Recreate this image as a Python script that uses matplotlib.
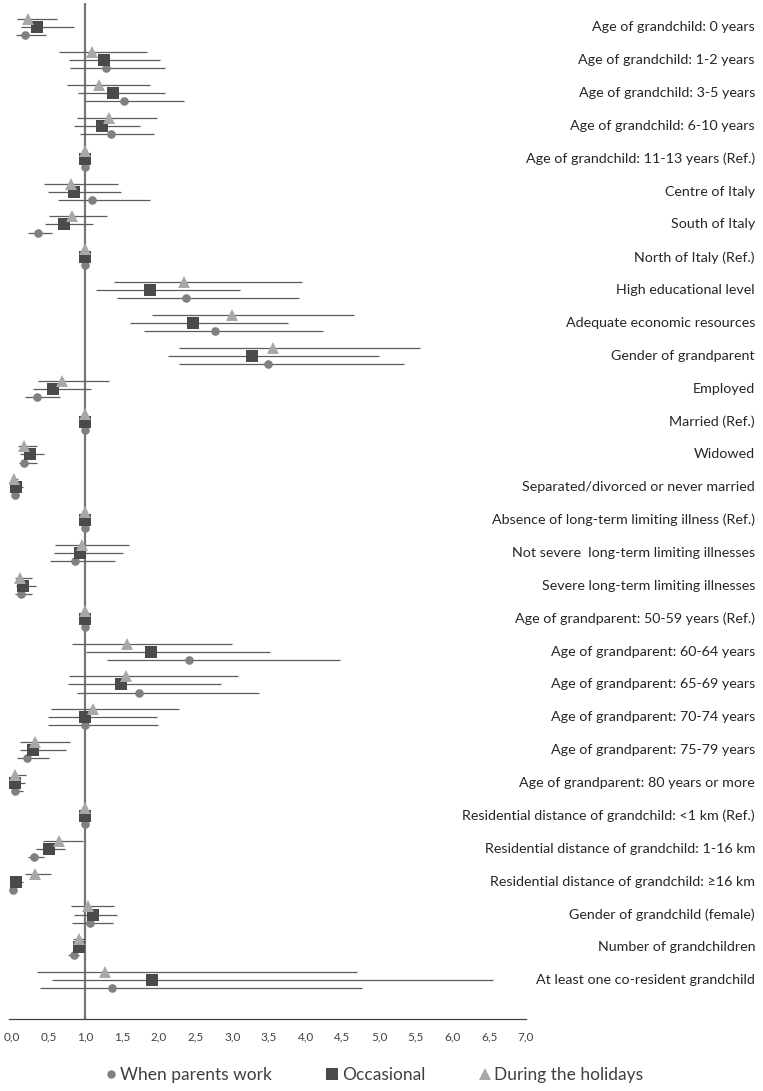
import matplotlib
matplotlib.use("Agg")
import matplotlib.pyplot as plt
import matplotlib.transforms as mtransforms
from matplotlib.lines import Line2D
import numpy as np

plt.rcParams['font.family'] = ['Lato', 'DejaVu Sans']

categories = [
    "Age of grandchild: 0 years",
    "Age of grandchild: 1-2 years",
    "Age of grandchild: 3-5 years",
    "Age of grandchild: 6-10 years",
    "Age of grandchild: 11-13 years (Ref.)",
    "Centre of Italy",
    "South of Italy",
    "North of Italy (Ref.)",
    "High educational level",
    "Adequate economic resources",
    "Gender of grandparent",
    "Employed",
    "Married (Ref.)",
    "Widowed",
    "Separated/divorced or never married",
    "Absence of long-term limiting illness (Ref.)",
    "Not severe  long-term limiting illnesses",
    "Severe long-term limiting illnesses",
    "Age of grandparent: 50-59 years (Ref.)",
    "Age of grandparent: 60-64 years",
    "Age of grandparent: 65-69 years",
    "Age of grandparent: 70-74 years",
    "Age of grandparent: 75-79 years",
    "Age of grandparent: 80 years or more",
    "Residential distance of grandchild: <1 km (Ref.)",
    "Residential distance of grandchild: 1-16 km",
    "Residential distance of grandchild: \u226516 km",
    "Gender of grandchild (female)",
    "Number of grandchildren",
    "At least one co-resident grandchild",
]

# When parents work (circle)
work_or = [0.18, 1.28, 1.53, 1.35, 1, 1.09, 0.35, 1, 2.37, 2.77, 3.49, 0.34, 1, 0.17, 0.04,
           1, 0.86, 0.12, 1, 2.41, 1.73, 1.00, 0.20, 0.035, 1, 0.30, 0.01, 1.06, 0.84, 1.36]
work_lo = [0.06, 0.79, 1.00, 0.93, 1, 0.63, 0.22, 1, 1.43, 1.80, 2.28, 0.18, 1, 0.09, 0.02,
           1, 0.52, 0.04, 1, 1.29, 0.89, 0.49, 0.07, 0.01, 1, 0.22, 0.00, 0.82, 0.77, 0.38]
work_hi = [0.47, 2.08, 2.34, 1.94, 1, 1.88, 0.55, 1, 3.91, 4.24, 5.34, 0.66, 1, 0.34, 0.09,
           1, 1.41, 0.27, 1, 4.47, 3.36, 1.99, 0.50, 0.15, 1, 0.43, 0.05, 1.37, 0.91, 4.76]

# Occasional (square)
occ_or = [0.34, 1.26, 1.37, 1.23, 1, 0.85, 0.71, 1, 1.88, 2.46, 3.27, 0.56, 1, 0.24, 0.05,
          1, 0.93, 0.15, 1, 1.89, 1.48, 0.99, 0.29, 0.045, 1, 0.50, 0.05, 1.11, 0.91, 1.91]
occ_lo = [0.12, 0.78, 0.90, 0.85, 1, 0.49, 0.45, 1, 1.14, 1.61, 2.13, 0.28, 1, 0.11, 0.02,
          1, 0.57, 0.05, 1, 1.01, 0.76, 0.49, 0.11, 0.01, 1, 0.33, 0.01, 0.85, 0.84, 0.55]
occ_hi = [0.84, 2.02, 2.08, 1.75, 1, 1.48, 1.11, 1, 3.10, 3.76, 5.00, 1.07, 1, 0.44, 0.15,
          1, 1.51, 0.33, 1, 3.51, 2.85, 1.98, 0.73, 0.18, 1, 0.72, 0.15, 1.43, 0.99, 6.55]

# During the holidays (triangle)
hol_or = [0.22, 1.09, 1.19, 1.32, 1, 0.80, 0.82, 1, 2.34, 2.99, 3.56, 0.68, 1, 0.16, 0.03,
          1, 0.96, 0.11, 1, 1.57, 1.55, 1.10, 0.31, 0.045, 1, 0.64, 0.31, 1.04, 0.91, 1.27]
hol_lo = [0.07, 0.64, 0.75, 0.88, 1, 0.44, 0.51, 1, 1.39, 1.91, 2.28, 0.35, 1, 0.08, 0.01,
          1, 0.58, 0.04, 1, 0.82, 0.78, 0.53, 0.11, 0.01, 1, 0.42, 0.18, 0.80, 0.83, 0.34]
hol_hi = [0.62, 1.84, 1.88, 1.97, 1, 1.44, 1.30, 1, 3.95, 4.66, 5.55, 1.32, 1, 0.34, 0.08,
          1, 1.60, 0.27, 1, 3.00, 3.08, 2.27, 0.79, 0.19, 1, 0.97, 0.53, 1.39, 0.99, 4.70]

series_names = ["When parents work", "Occasional", "During the holidays"]
xticks = [0.0, 0.5, 1.0, 1.5, 2.0, 2.5, 3.0, 3.5, 4.0, 4.5, 5.0, 5.5, 6.0, 6.5, 7.0]

W, H = 763, 1091
fig = plt.figure(figsize=(W / 100, H / 100), dpi=100)

ax_left, ax_right = 9, 526
ax_top, ax_bottom = 3, 1019
ax = fig.add_axes([ax_left / W, (H - ax_bottom) / H, (ax_right - ax_left) / W, (ax_bottom - ax_top) / H])

row0, step = 27.3, 32.86
ax.set_xlim(-0.04, 7.0)
ax.set_ylim((ax_bottom - row0) / step, (ax_top - row0) / step)

ax.axvline(1.0, color='#767676', lw=1.6, zorder=1)

n = len(categories)
ypos = np.arange(n)

specs = [
    (work_or, work_lo, work_hi, 'o', 6.2, '#808080', 0.245),
    (occ_or, occ_lo, occ_hi, 's', 9.0, '#4a4a4a', 0.0),
    (hol_or, hol_lo, hol_hi, '^', 8.6, '#a8a8a8', -0.245),
]
for (vals, lo, hi, mk, ms, col, off) in specs:
    v = np.array(vals, dtype=float)
    l = np.array(lo, dtype=float)
    h = np.array(hi, dtype=float)
    ax.errorbar(v, ypos + off, xerr=[v - l, h - v], fmt='none', ecolor='#5c5c5c',
                elinewidth=0.9, capsize=0, zorder=2)
    ax.plot(v, ypos + off, linestyle='none', marker=mk, ms=ms, color=col,
            markeredgewidth=0, zorder=3)

for s in ['top', 'right', 'left']:
    ax.spines[s].set_visible(False)
ax.spines['bottom'].set_color('#404040')
ax.spines['bottom'].set_linewidth(0.9)
ax.set_yticks([])
ax.set_xticks(xticks)
ax.set_xticklabels([f"{t:.1f}".replace('.', ',') for t in xticks], fontsize=8.5, color='#404040')
ax.tick_params(axis='x', length=0, pad=9)

trans = mtransforms.blended_transform_factory(fig.transFigure, ax.transData)
for i, c in enumerate(categories):
    ax.text(755 / W, i, c, transform=trans, ha='right', va='center', fontsize=10.3,
            color='#262626', clip_on=False)

handles = [
    Line2D([], [], linestyle='none', marker='o', ms=6, color='#808080', markeredgewidth=0),
    Line2D([], [], linestyle='none', marker='s', ms=8.5, color='#4a4a4a', markeredgewidth=0),
    Line2D([], [], linestyle='none', marker='^', ms=8.5, color='#a8a8a8', markeredgewidth=0),
]
fig.legend(handles, series_names, loc='center', bbox_to_anchor=(375 / W, (H - 1075) / H),
           ncol=3, frameon=False, fontsize=12.5, handlelength=0.5, handletextpad=0.3,
           columnspacing=3.2, labelcolor='#404040')

fig.savefig("out.png", dpi=100)
